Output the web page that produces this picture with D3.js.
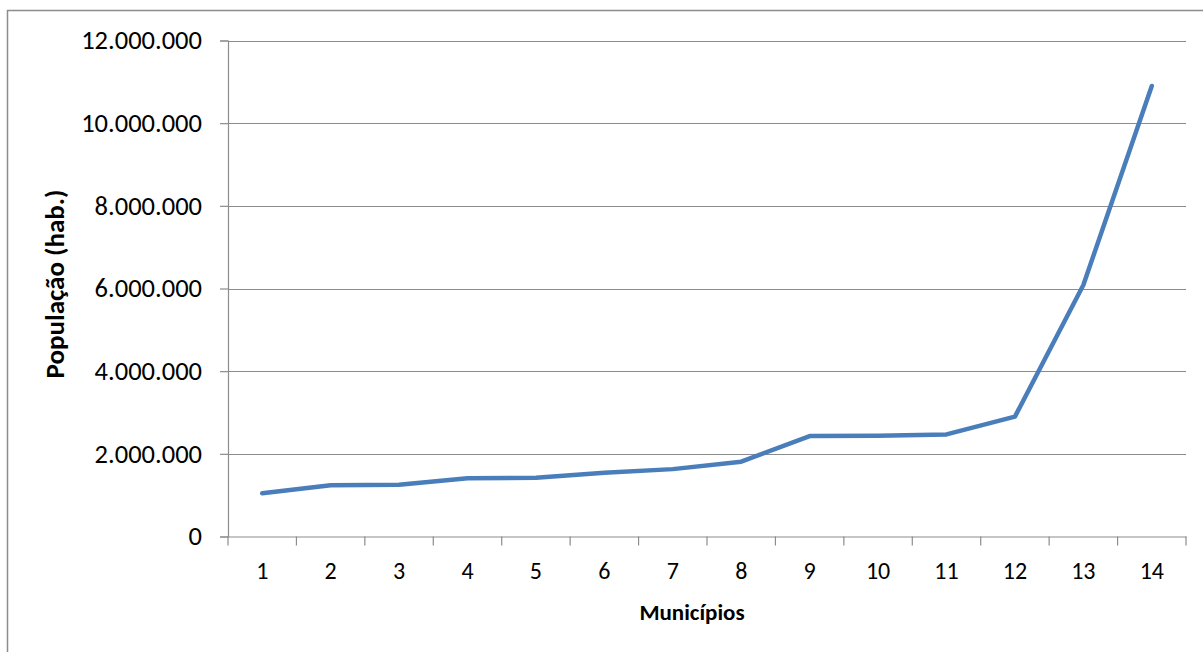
<!DOCTYPE html>
<html>
<head>
<meta charset="utf-8">
<script src="https://cdn.jsdelivr.net/npm/d3@7"></script>
<style>
  html, body { margin: 0; padding: 0; background: #fff; }
  svg { display: block; font-family: Carlito, Calibri, Lato, sans-serif; }
</style>
</head>
<body>
<svg id="chart" width="1203" height="652"></svg>
<script>
// Population per municipality (inhabitants), sorted ascending
const municipios = ["1","2","3","4","5","6","7","8","9","10","11","12","13","14"];
const populacao = [1045000, 1240000, 1250000, 1410000, 1420000, 1540000, 1630000,
                   1810000, 2430000, 2440000, 2470000, 2900000, 6085000, 10900000];
const yTicks = [0, 2000000, 4000000, 6000000, 8000000, 10000000, 12000000];

const svg = d3.select("#chart");
const plot = { left: 228, right: 1186, top: 40.5, bottom: 536.5 };
const fontStack = "Carlito, Calibri, Lato, sans-serif";

// chart frame
svg.append("path")
  .attr("d", "M7.5,652 L7.5,10.5 L1203,10.5")
  .attr("fill", "none").attr("stroke", "#8c8c8c").attr("stroke-width", 1.5);

const x = d3.scaleBand().domain(municipios).range([plot.left, plot.right]);
const y = d3.scaleLinear().domain([0, 12000000]).range([plot.bottom, plot.top]);

const fmt = v => d3.format(",")(v).replace(/,/g, ".");

// horizontal gridlines
svg.append("g").selectAll("line").data(yTicks.slice(1)).join("line")
  .attr("x1", plot.left).attr("x2", plot.right)
  .attr("y1", d => Math.round(y(d)) + 0.5).attr("y2", d => Math.round(y(d)) + 0.5)
  .attr("stroke", "#8c8c8c").attr("stroke-width", 1.2);

// y axis
const yAxis = svg.append("g")
  .attr("transform", `translate(${plot.left},0)`)
  .call(d3.axisLeft(y).tickValues(yTicks).tickFormat(fmt).tickSize(8).tickPadding(18));
yAxis.select(".domain").attr("stroke", "#8c8c8c").attr("stroke-width", 1.2);
yAxis.selectAll(".tick line").attr("stroke", "#8c8c8c").attr("stroke-width", 1.2);
yAxis.selectAll(".tick text").attr("font-size", 26.5).attr("fill", "#000")
  .attr("font-family", fontStack);

// x axis with ticks between categories
const xAxis = svg.append("g")
  .attr("transform", `translate(0,${plot.bottom})`)
  .call(d3.axisBottom(x).tickSize(0).tickPadding(25));
xAxis.select(".domain").attr("stroke", "#8c8c8c").attr("stroke-width", 1.2);
xAxis.selectAll(".tick text").attr("font-size", 24).attr("fill", "#000")
  .attr("font-family", fontStack);
const bounds = municipios.map(m => x(m)).concat([x.range()[1]]);
xAxis.append("g").selectAll("line").data(bounds).join("line")
  .attr("x1", d => d).attr("x2", d => d).attr("y1", 0).attr("y2", 9)
  .attr("stroke", "#8c8c8c").attr("stroke-width", 1.2);

// population line
const line = d3.line()
  .x((d, i) => x(municipios[i]) + x.bandwidth() / 2)
  .y(d => y(d));
svg.append("path").datum(populacao)
  .attr("d", line)
  .attr("fill", "none").attr("stroke", "#4A7EBB").attr("stroke-width", 4.5)
  .attr("stroke-linejoin", "round").attr("stroke-linecap", "round");

// axis titles
svg.append("text")
  .attr("transform", "translate(64,284) rotate(-90)")
  .attr("text-anchor", "middle")
  .attr("font-size", 27).attr("font-weight", "bold")
  .text("População (hab.)");
svg.append("text")
  .attr("x", 692).attr("y", 620)
  .attr("text-anchor", "middle")
  .attr("font-size", 23).attr("font-weight", "bold")
  .text("Municípios");
</script>
</body>
</html>
